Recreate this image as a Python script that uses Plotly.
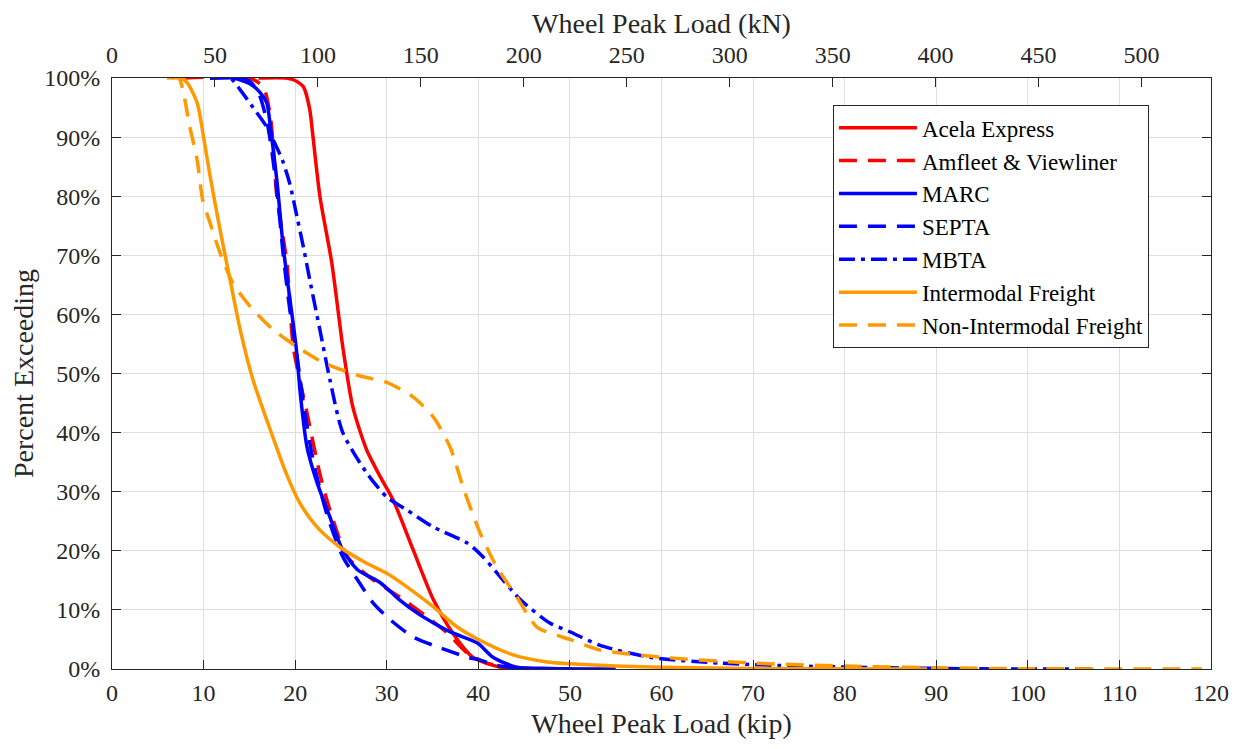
import plotly.graph_objects as go

KIP_TO_KN = 4.448

acela_x = [16, 19, 19.8, 20.9, 21.6, 21.9, 22.7, 24.0, 25.2, 26.3, 27.8, 29.3, 30.7, 32.9, 35.1, 37.2, 39.4, 42.4, 46, 50]
acela_y = [100, 100, 99.7, 98.5, 94.6, 90.7, 80, 68.7, 54.5, 44.3, 37.1, 32.5, 28.6, 20.1, 11.7, 6.1, 2.0, 0.3, 0.05, 0]

amfleet_x = [8, 15, 16.5, 17.3, 18.0, 19.1, 19.8, 21.3, 22.7, 23.8, 25.7, 28.5, 31.4, 34.4, 36.6, 38.8, 40.9, 43, 46, 50]
amfleet_y = [100, 100, 98.5, 93.4, 80, 68.7, 54.5, 43.3, 33, 26.9, 19.0, 15.1, 12.2, 8.8, 6.1, 2.7, 1.0, 0.3, 0.05, 0]

marc_x = [10.7, 13.2, 15.1, 16.2, 16.9, 17.3, 18.0, 18.7, 19.4, 20.1, 20.6, 21.3, 22.4, 23.8, 25.2, 26.8, 29.3, 31.4, 33.3, 35.1, 37.2, 39.9, 41.6, 44.2, 47.8, 55]
marc_y = [100, 100, 99, 97.5, 95.8, 91.7, 82.7, 71.4, 62.9, 54.5, 46.0, 37.5, 31.5, 25.7, 20.1, 16.8, 14.6, 11.7, 9.5, 7.8, 6.1, 4.4, 2.0, 0.3, 0.1, 0]

septa_x = [10.7, 13.5, 15.0, 16.0, 17.0, 18.0, 18.7, 19.4, 20.2, 20.9, 22.0, 23.5, 25.2, 26.8, 28.5, 30.4, 32.9, 35.8, 38.8, 40.2, 42, 45, 50]
septa_y = [100, 100, 99.5, 97.5, 92, 81, 70, 61, 53, 45, 35, 26, 19.0, 15.1, 11.2, 8.3, 5.4, 3.6, 2.0, 1.5, 0.6, 0.1, 0]

mbta_x = [10.7, 12.9, 14.0, 15.4, 16.9, 17.6, 18.6, 19.4, 20.2, 20.9, 21.6, 22.7, 23.8, 25.2, 27.8, 30.0, 32.2, 35.1, 38.8, 40.5, 42.4, 44.6, 47.8, 50, 53.3, 58.7, 66.4, 75, 85, 97, 107]
mbta_y = [100, 100, 98, 95, 91.7, 89.5, 86.1, 82.2, 76.5, 71.4, 65.8, 57.4, 48.9, 40.0, 33.2, 29.1, 26.9, 24.0, 21.3, 19.0, 15.6, 11.7, 7.8, 6.3, 4.0, 2.0, 1.0, 0.5, 0.2, 0, 0]

inter_x = [6, 7.5, 8.2, 9.3, 10.0, 10.7, 11.8, 12.9, 14.0, 15.4, 17.3, 19.1, 20.5, 22.4, 24.9, 27.8, 30.0, 32.2, 35.1, 37.7, 40.0, 43.8, 47.5, 50, 55, 60, 70, 89]
inter_y = [100, 100, 99.2, 95.8, 90.0, 83.5, 74.3, 65.8, 57.4, 48.9, 40.4, 32.8, 28.1, 24.0, 20.6, 17.9, 16.2, 13.9, 10.5, 7.1, 5.0, 2.4, 1.2, 0.9, 0.5, 0.3, 0.1, 0]

nonint_x = [6.5, 7.3, 7.8, 8.5, 9.3, 9.9, 10.7, 11.8, 13.2, 15.1, 17.6, 20.2, 23.0, 26.8, 30.0, 32.9, 35.1, 36.9, 38.5, 40.2, 42.0, 44.2, 46.4, 50, 53.3, 60, 70, 80, 90, 100, 119]
nonint_y = [100, 100, 97.5, 91.7, 86.1, 79.4, 75.5, 70.4, 65.3, 61.3, 57.4, 54.5, 51.9, 49.7, 48.5, 46.0, 42.6, 37.6, 30.0, 23.0, 17.3, 12.2, 7.1, 5.0, 3.2, 2.0, 1.0, 0.5, 0.2, 0.05, 0]

DASH = "18px,11px"
DASHDOT = "16px,6px,4px,6px"
series = [
    ("Acela Express", acela_x, acela_y, "#FF0000", "solid"),
    ("Amfleet & Viewliner", amfleet_x, amfleet_y, "#FF0000", DASH),
    ("MARC", marc_x, marc_y, "#0000FF", "solid"),
    ("SEPTA", septa_x, septa_y, "#0000FF", DASH),
    ("MBTA", mbta_x, mbta_y, "#0000FF", DASHDOT),
    ("Intermodal Freight", inter_x, inter_y, "#FF9900", "solid"),
    ("Non-Intermodal Freight", nonint_x, nonint_y, "#FF9900", DASH),
]

FONT = "Liberation Serif"
AX = "#262626"

fig = go.Figure()
for name, xs, ys, col, dash in series:
    fig.add_trace(go.Scatter(
        x=xs, y=ys, name=name, mode="lines",
        line=dict(color=col, width=3.5, dash=dash, shape="spline", smoothing=0.7),
    ))

# dummy trace for top kN axis
fig.add_trace(go.Scatter(x=[0], y=[None], xaxis="x2", showlegend=False,
                         hoverinfo="skip", mode="lines"))

fig.update_layout(
    width=1242, height=749,
    margin=dict(l=104, r=39, t=70, b=88),
    paper_bgcolor="white", plot_bgcolor="white",
    font=dict(family=FONT, size=24, color=AX),
    showlegend=True,
    legend=dict(
        x=0.656, y=0.954, xanchor="left", yanchor="top",
        bgcolor="white", bordercolor=AX, borderwidth=1,
        font=dict(family=FONT, size=23, color="black"),
        tracegroupgap=0, itemwidth=78,
    ),
    xaxis=dict(
        range=[0, 120], dtick=10, tick0=0, automargin=False,
        showgrid=True, gridcolor="#dedede", gridwidth=1,
        showline=True, linecolor=AX, linewidth=1,
        ticks="inside", ticklen=9, tickcolor=AX,
        ticklabelstandoff=2,
        tickfont=dict(family=FONT, size=24, color=AX),
        title=dict(text="Wheel Peak Load (kip)", font=dict(family=FONT, size=28, color=AX), standoff=8),
        zeroline=False, mirror=False,
    ),
    xaxis2=dict(
        range=[0, 120 * KIP_TO_KN], dtick=50, tick0=0, automargin=False,
        overlaying="x", side="top", anchor="y",
        showgrid=False, showline=True, linecolor=AX, linewidth=1,
        ticks="inside", ticklen=9, tickcolor=AX,
        ticklabelstandoff=4,
        tickfont=dict(family=FONT, size=24, color=AX),
        title=dict(text="Wheel Peak Load (kN)", font=dict(family=FONT, size=28, color=AX), standoff=6),
        zeroline=False,
    ),
    yaxis=dict(
        range=[0, 100], dtick=10, tick0=0, ticksuffix="%", automargin=False,
        showgrid=True, gridcolor="#dedede", gridwidth=1,
        showline=True, linecolor=AX, linewidth=1, mirror="ticks",
        ticks="inside", ticklen=9, tickcolor=AX,
        ticklabelstandoff=6,
        tickfont=dict(family=FONT, size=24, color=AX),
        title=dict(text="Percent Exceeding", font=dict(family=FONT, size=28, color=AX), standoff=10),
        zeroline=False,
    ),
)

fig.write_html("out.html")
